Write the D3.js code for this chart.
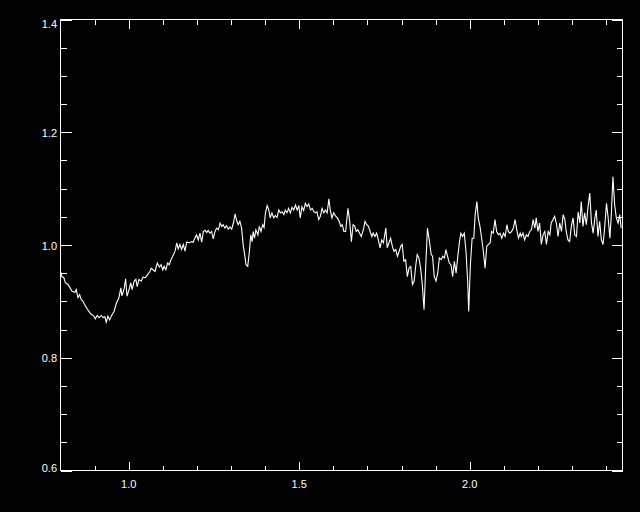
<!DOCTYPE html>
<html>
<head>
<meta charset="utf-8">
<script src="https://cdn.jsdelivr.net/npm/d3@7"></script>
<style>
html,body{margin:0;padding:0;background:#000;}
svg{display:block;background:#000;}
</style>
</head>
<body>
<svg id="chart" width="640" height="512"></svg>
<script>
const wavelength = [
0.801,0.804,0.810,0.814,0.822,0.828,0.834,0.842,0.846,0.851,
0.856,0.861,0.866,0.871,0.879,0.886,0.890,0.898,0.902,0.908,
0.913,0.920,0.925,0.930,0.934,0.939,0.944,0.949,0.957,0.964,
0.971,0.977,0.980,0.986,0.991,0.995,1.001,1.006,1.010,1.016,
1.021,1.025,1.030,1.037,1.042,1.049,1.055,1.062,1.066,
1.077,1.084,1.090,1.095,1.100,1.104,1.109,1.114,1.119,1.124,
1.129,1.136,1.141,1.145,1.150,1.155,1.160,1.165,1.170,1.178,
1.185,1.189,1.194,1.199,1.204,1.209,1.214,1.219,1.224,1.229,
1.233,1.238,1.243,1.248,1.253,1.258,1.263,1.268,1.273,1.277,
1.282,1.287,1.292,1.297,1.302,1.307,1.312,1.317,1.321,1.326,
1.331,
1.336,1.340,1.344,1.349,1.354,1.358,1.362,1.365,1.369,
1.373,1.379,1.383,1.388,1.393,1.397,1.401,1.406,1.411,1.415,
1.420,1.425,1.430,1.435,1.440,1.445,1.450,1.455,1.459,1.464,
1.469,1.474,1.479,1.484,1.489,1.494,1.499,1.503,1.508,1.513,
1.518,1.523,1.528,1.533,1.538,1.543,1.547,1.552,1.557,1.562,
1.567,1.572,1.577,1.582,1.587,1.591,1.596,1.601,
1.607,1.612,
1.617,1.622,1.626,1.631,1.636,1.643,1.648,1.653,1.658,1.663,
1.667,1.672,1.677,1.682,1.688,1.693,1.698,1.703,1.708,1.713,
1.717,1.722,1.727,1.732,1.737,1.742,1.747,1.754,1.758,1.763,
1.768,1.773,1.778,1.783,1.788,1.793,1.798,1.802,1.807,1.812,
1.817,1.822,1.827,1.832,1.837,1.842,1.846,1.851,1.856,1.861,
1.866,1.871,1.876,
1.882,1.887,1.891,1.896,1.901,1.906,1.911,
1.916,1.921,1.926,1.930,1.935,1.940,1.945,1.950,1.955,1.960,
1.965,1.970,1.974,1.979,1.984,1.989,1.994,1.997,2.002,2.007,
2.012,2.016,2.021,2.025,2.030,2.035,2.040,2.045,2.050,2.055,
2.060,2.064,2.069,2.074,2.079,2.084,2.089,2.094,2.099,2.104,
2.109,2.113,2.118,2.123,2.128,2.133,2.138,2.143,2.148,
2.151,
2.156,2.161,2.166,2.171,2.176,2.181,2.186,2.191,2.195,2.200,
2.205,2.210,2.215,2.220,2.225,2.230,2.235,2.239,2.244,2.249,
2.254,2.259,2.264,2.269,2.274,2.279,2.283,2.288,2.293,2.298,
2.303,2.308,2.313,2.318,2.323,2.327,2.332,2.337,2.342,2.347,
2.352,2.357,2.362,2.367,2.371,2.376,2.381,2.386,2.391,2.396,
2.401,2.406,2.411,2.415,2.420,2.425,2.430,2.435,2.440,2.444
];
const ratio = [
0.952,0.944,0.942,0.933,0.930,0.924,0.918,0.916,0.921,0.907,
0.912,0.903,0.900,0.894,0.886,0.880,0.877,0.874,0.869,0.875,
0.871,0.875,0.871,0.873,0.863,0.874,0.867,0.874,0.882,0.897,
0.906,0.924,0.910,0.921,0.940,0.909,0.921,0.933,0.921,0.936,
0.939,0.926,0.939,0.936,0.943,0.942,0.947,0.953,0.959,
0.953,0.968,0.961,0.965,0.956,0.962,0.956,0.968,0.965,0.974,
0.980,0.989,1.004,0.993,1.001,0.992,1.001,0.989,1.005,1.004,
1.006,1.005,1.012,1.018,1.009,1.021,1.005,1.024,1.026,1.022,
1.026,1.021,1.024,1.011,1.024,1.030,1.027,1.039,1.033,1.036,
1.030,1.034,1.028,1.032,1.028,1.039,1.055,1.042,1.036,1.042,
1.030,
0.998,0.983,0.965,0.962,0.989,1.018,1.006,1.024,1.012,
1.027,1.018,1.033,1.024,1.036,1.031,1.057,1.070,1.062,1.048,
1.057,1.048,1.052,1.049,1.062,1.057,1.059,1.054,1.062,1.057,
1.065,1.057,1.067,1.062,1.071,1.062,1.070,1.048,1.068,1.061,
1.074,1.068,1.073,1.062,1.065,1.059,1.057,1.059,1.045,1.051,
1.065,1.057,1.062,1.057,1.082,1.062,1.048,1.057,
1.051,1.048,
1.042,1.033,1.036,1.024,1.024,1.065,1.042,1.006,1.036,1.033,
1.024,1.027,1.021,1.015,1.027,1.042,1.036,1.033,1.024,1.015,
1.021,1.015,1.021,1.009,0.995,1.009,1.004,1.030,0.995,1.004,
1.012,0.998,0.989,0.992,0.980,0.989,0.998,1.001,0.971,0.974,
0.944,0.959,0.962,0.930,0.936,0.965,0.983,0.977,0.959,0.930,
0.885,0.962,1.030,
1.006,0.983,0.980,0.944,0.936,0.950,0.977,
0.974,0.980,0.977,0.992,0.980,0.968,0.965,0.944,0.971,0.950,
0.980,1.006,1.021,1.015,1.021,0.989,0.936,0.882,0.965,1.012,
1.012,1.054,1.077,1.048,1.033,1.012,0.989,0.959,0.998,1.001,
1.004,1.024,1.021,1.045,1.024,1.018,1.021,1.012,1.021,1.015,
1.036,1.024,1.021,1.024,1.030,1.045,1.027,1.012,1.021,
1.015,
1.021,1.009,1.018,1.015,1.024,1.027,1.045,1.030,1.048,1.024,
1.039,1.001,1.018,1.024,1.001,1.024,1.018,1.039,1.045,1.051,
1.039,1.015,1.039,1.024,1.054,1.045,1.024,1.009,1.006,1.033,
1.048,1.018,1.015,1.059,1.039,1.077,1.033,1.057,1.036,1.068,
1.092,1.039,1.021,1.048,1.062,1.015,1.042,1.009,1.001,1.033,
1.074,1.048,1.012,1.051,1.121,1.071,1.048,1.039,1.054,1.030
];
const xDomain = [0.8, 2.448];
const yDomain = [0.6, 1.4];
const xMajorTicks = [1.0, 1.5, 2.0];
const xMinorTicks = [0.9, 1.1, 1.2, 1.3, 1.4, 1.6, 1.7, 1.8, 1.9, 2.1, 2.2, 2.3, 2.4];
const yMajorTicks = [0.6, 0.8, 1.0, 1.2, 1.4];
const yMinorTicks = [0.65, 0.7, 0.75, 0.85, 0.9, 0.95, 1.05, 1.1, 1.15, 1.25, 1.3, 1.35];
const yTickLabels = ["0.6", "0.8", "1.0", "1.2", "1.4"];
const xTickLabels = ["1.0", "1.5", "2.0"];

const svg = d3.select("#chart");
const L = 60.5, R = 622.5, T = 19.5, B = 470.5;
const x = d3.scaleLinear().domain(xDomain).range([L, R]);
const y = d3.scaleLinear().domain(yDomain).range([B, T]);

const data = d3.zip(wavelength, ratio);
const line = d3.line().x(d => x(d[0])).y(d => y(d[1]));

svg.append("path")
  .datum(data)
  .attr("d", line)
  .attr("fill", "none")
  .attr("stroke", "#fff")
  .attr("stroke-width", 1.1)
  .attr("stroke-linejoin", "miter");

const ax = svg.append("g").attr("stroke", "#fff").attr("stroke-width", 1).attr("shape-rendering", "crispEdges");
ax.append("rect").attr("x", L).attr("y", T).attr("width", R - L).attr("height", B - T).attr("fill", "none");

function xt(vals, len) {
  vals.forEach(v => {
    const px = Math.round(x(v)) + 0.5;
    ax.append("line").attr("x1", px).attr("x2", px).attr("y1", B).attr("y2", B - len);
    ax.append("line").attr("x1", px).attr("x2", px).attr("y1", T).attr("y2", T + len);
  });
}
function yt(vals, len) {
  vals.forEach(v => {
    const py = Math.round(y(v)) + 0.5;
    ax.append("line").attr("y1", py).attr("y2", py).attr("x1", L).attr("x2", L + len);
    ax.append("line").attr("y1", py).attr("y2", py).attr("x1", R).attr("x2", R - len);
  });
}
xt(xMajorTicks, 9);
xt(xMinorTicks, 5);
yt(yMajorTicks, 11);
yt(yMinorTicks, 6);

const font = "'Liberation Sans', Arial, sans-serif";
svg.append("g").selectAll("text").data(xMajorTicks).join("text")
  .attr("x", d => x(d))
  .attr("y", 488)
  .attr("text-anchor", "middle")
  .attr("fill", "#fff")
  .attr("font-family", font)
  .attr("font-size", 11)
  .text((d, i) => xTickLabels[i]);

svg.append("g").selectAll("text").data(yMajorTicks).join("text")
  .attr("x", 57)
  .attr("y", (d, i) => i === 0 ? y(d) + 1 : (i === yMajorTicks.length - 1 ? y(d) + 8 : y(d) + 4.5))
  .attr("text-anchor", "end")
  .attr("fill", "#fff")
  .attr("font-family", font)
  .attr("font-size", 11)
  .text((d, i) => yTickLabels[i]);
</script>
</body>
</html>
